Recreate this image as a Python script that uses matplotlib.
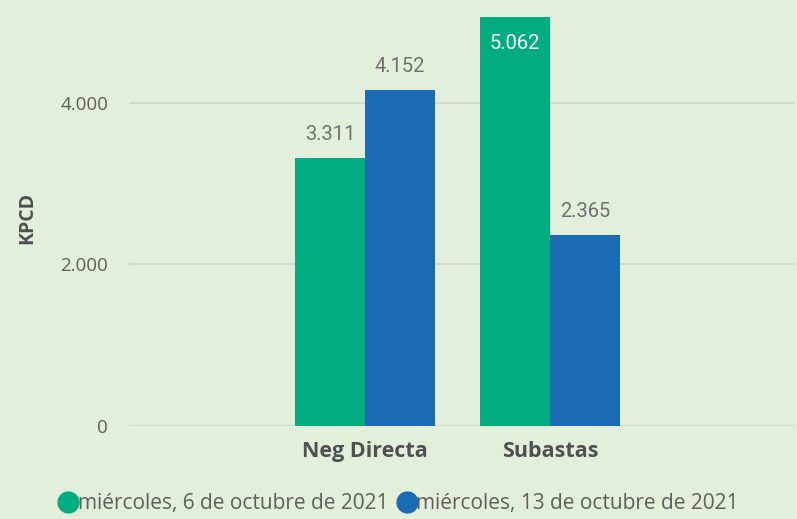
import matplotlib
matplotlib.use("Agg")
import matplotlib.pyplot as plt
from matplotlib.lines import Line2D
import numpy as np

categories = ["Neg Directa", "Subastas"]
series_names = ["miércoles, 6 de octubre de 2021", "miércoles, 13 de octubre de 2021"]
values_oct6 = [3311, 5062]
values_oct13 = [4152, 2365]
yticks = [0, 2000, 4000]
ytick_labels = ["0", "2.000", "4.000"]

bg = "#E2EFDA"
green = "#01AC81"
blue = "#1A6BB4"
grid_c = "#D3D8D0"
txt = "#605E5C"

def fmt(v):
    return f"{v:,}".replace(",", ".")

fig = plt.figure(figsize=(7.97, 5.19), dpi=100, facecolor=bg)
ax = fig.add_axes([129/797, 1-426/519, (794-129)/797, 0.81])
ax.set_facecolor(bg)

x = np.arange(len(categories))
w = 0.378
b1 = ax.bar(x - w/2, values_oct6, w, color=green, zorder=3)
b2 = ax.bar(x + w/2, values_oct13, w, color=blue, zorder=3)

ax.set_xlim(-1.276, 2.319)
ax.set_ylim(0, 5200)
ax.set_yticks(yticks)
ax.set_yticklabels(ytick_labels)
ax.yaxis.grid(True, color=grid_c, linewidth=1.5, zorder=0)
ax.set_axisbelow(True)
for s in ax.spines.values():
    s.set_visible(False)
ax.tick_params(axis="y", length=0, pad=15, labelsize=13.5, labelcolor=txt)
ax.tick_params(axis="x", length=0, pad=11)
ax.set_xticks(x)
ax.set_xticklabels(categories, fontsize=15.5, fontweight="bold", color="#505050", family="Open Sans")
for t in ax.get_yticklabels():
    t.set_family("Open Sans")

ax.set_ylabel("KPCD", fontsize=14, fontweight="bold", color="#505050", family="Open Sans")
ax.yaxis.set_label_coords(-0.138, 0.5 * 4950 / 5200 + 0.02)

for bars, vals in ((b1, values_oct6), (b2, values_oct13)):
    for bar, v in zip(bars, vals):
        cx = bar.get_x() + bar.get_width()/2
        if v > 4800:
            ax.annotate(fmt(v), (cx, v), xytext=(0, -19), textcoords="offset points",
                        ha="center", va="center", fontsize=14.5, color="white", family="Roboto")
        else:
            ax.annotate(fmt(v), (cx, v), xytext=(0, 17), textcoords="offset points",
                        ha="center", va="center", fontsize=14.5, color="#707070", family="Roboto")

handles = [Line2D([0], [0], marker="o", linestyle="", markersize=15, color=c) for c in (green, blue)]
fig.legend(handles, series_names, loc="center", bbox_to_anchor=(0.5, 1-504/519), ncol=2,
           frameon=False, handletextpad=-0.05, columnspacing=0.4, handlelength=1.0,
           prop={"family": "Open Sans", "size": 15}, labelcolor=txt)

fig.savefig("out.png", dpi=100, facecolor=bg)
